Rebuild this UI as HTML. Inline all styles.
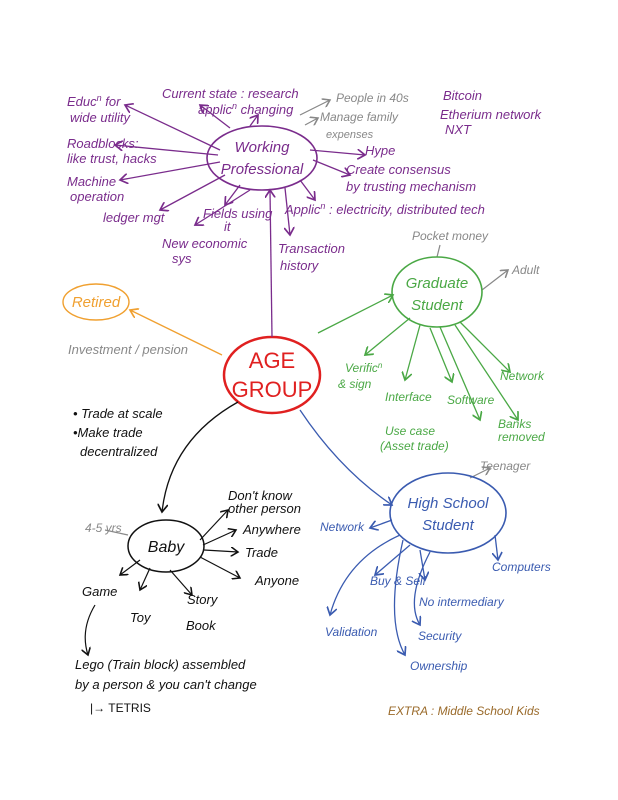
<!DOCTYPE html>
<html><head><meta charset="utf-8"><style>
html,body{margin:0;padding:0;background:#fff}
svg{display:block}
text{font-family:"Liberation Sans",sans-serif;font-style:italic}
.p{fill:#7a2c8c}.g{fill:#4aa845}.b{fill:#3a5bb0}.k{fill:#111}.gr{fill:#888}
</style></head><body>
<svg width="618" height="800" viewBox="0 0 618 800" xmlns="http://www.w3.org/2000/svg">
<defs>
<marker id="ap" markerWidth="8" markerHeight="8" refX="6" refY="4" orient="auto"><path d="M0,0 L6,4 L0,8" fill="none" stroke="#7a2c8c" stroke-width="1.3"/></marker>
<marker id="ag" markerWidth="8" markerHeight="8" refX="6" refY="4" orient="auto"><path d="M0,0 L6,4 L0,8" fill="none" stroke="#4aa845" stroke-width="1.3"/></marker>
<marker id="ab" markerWidth="8" markerHeight="8" refX="6" refY="4" orient="auto"><path d="M0,0 L6,4 L0,8" fill="none" stroke="#3a5bb0" stroke-width="1.3"/></marker>
<marker id="ak" markerWidth="8" markerHeight="8" refX="6" refY="4" orient="auto"><path d="M0,0 L6,4 L0,8" fill="none" stroke="#111" stroke-width="1.3"/></marker>
<marker id="ao" markerWidth="8" markerHeight="8" refX="6" refY="4" orient="auto"><path d="M0,0 L6,4 L0,8" fill="none" stroke="#f0a030" stroke-width="1.3"/></marker>
<marker id="agr" markerWidth="8" markerHeight="8" refX="6" refY="4" orient="auto"><path d="M0,0 L6,4 L0,8" fill="none" stroke="#888" stroke-width="1.3"/></marker>
</defs>

<!-- center -->
<ellipse cx="272" cy="375" rx="48" ry="38" fill="none" stroke="#e02020" stroke-width="2.5"/>
<text x="272" y="368" font-size="22" fill="#e02020" text-anchor="middle" style="font-style:normal">AGE</text>
<text x="272" y="397" font-size="22" fill="#e02020" text-anchor="middle" style="font-style:normal">GROUP</text>

<!-- working professional -->
<g stroke="#7a2c8c" stroke-width="1.3" fill="none" marker-end="url(#ap)">
<path d="M272 337 L270 190"/>
<path d="M220 150 L125 105"/>
<path d="M218 155 L115 145"/>
<path d="M220 162 L120 180"/>
<path d="M225 175 L160 210"/>
<path d="M240 185 L225 205"/>
<path d="M250 190 L195 225"/>
<path d="M285 188 L290 235"/>
<path d="M230 128 L200 105"/>
<path d="M250 126 L258 115"/>
<path d="M310 150 L365 155"/>
<path d="M313 160 L350 175"/>
<path d="M300 180 L315 200"/>
</g>
<g stroke="#888" stroke-width="1.2" fill="none" marker-end="url(#agr)">
<path d="M300 115 L330 100"/><path d="M305 125 L318 118"/>
</g>
<ellipse cx="262" cy="158" rx="55" ry="32" fill="none" stroke="#7a2c8c" stroke-width="1.6"/>
<text x="262" y="152" font-size="15" class="p" text-anchor="middle">Working</text>
<text x="262" y="174" font-size="15" class="p" text-anchor="middle">Professional</text>
<g font-size="13" class="p">
<text x="67" y="106">Educ<tspan font-size="9" dy="-5">n</tspan><tspan dy="5"> for</tspan></text>
<text x="70" y="122">wide utility</text>
<text x="162" y="98">Current state : research</text>
<text x="198" y="114">applic<tspan font-size="9" dy="-5">n</tspan><tspan dy="5"> changing</tspan></text>
<text x="67" y="148">Roadblocks:</text>
<text x="67" y="163">like trust, hacks</text>
<text x="67" y="186">Machine</text>
<text x="70" y="201">operation</text>
<text x="103" y="222">ledger mgt</text>
<text x="203" y="218">Fields using</text>
<text x="224" y="231">it</text>
<text x="162" y="248">New economic</text>
<text x="172" y="263">sys</text>
<text x="278" y="253">Transaction</text>
<text x="280" y="270">history</text>
<text x="365" y="155">Hype</text>
<text x="346" y="174">Create consensus</text>
<text x="346" y="191">by trusting mechanism</text>
<text x="285" y="214">Applic<tspan font-size="9" dy="-5">n</tspan><tspan dy="5"> : electricity, distributed tech</tspan></text>
<text x="443" y="100">Bitcoin</text>
<text x="440" y="119">Etherium network</text>
<text x="445" y="134">NXT</text>
</g>
<g font-size="12" class="gr">
<text x="336" y="102">People in 40s</text>
<text x="320" y="121">Manage family</text>
<text x="326" y="138" font-size="11">expenses</text>
</g>

<!-- retired -->
<path d="M222 355 L130 310" stroke="#f0a030" stroke-width="1.3" fill="none" marker-end="url(#ao)"/>
<ellipse cx="96" cy="302" rx="33" ry="18" fill="none" stroke="#f0a030" stroke-width="1.4"/>
<text x="96" y="307" font-size="15" fill="#f0a030" text-anchor="middle">Retired</text>
<text x="68" y="354" font-size="13" class="gr">Investment / pension</text>

<!-- graduate -->
<g stroke="#4aa845" stroke-width="1.3" fill="none" marker-end="url(#ag)">
<path d="M318 333 L393 295"/>
<path d="M410 318 L365 355"/>
<path d="M420 325 L405 380"/>
<path d="M430 328 L452 382"/>
<path d="M440 327 L480 420"/>
<path d="M460 322 L510 372"/>
<path d="M455 325 L518 420"/>
</g>
<path d="M482 290 L508 270" stroke="#888" stroke-width="1.2" fill="none" marker-end="url(#agr)"/>
<path d="M437 257 L440 245" stroke="#888" stroke-width="1.2" fill="none"/>
<ellipse cx="437" cy="292" rx="45" ry="35" fill="none" stroke="#4aa845" stroke-width="1.6"/>
<text x="437" y="288" font-size="15" class="g" text-anchor="middle">Graduate</text>
<text x="437" y="310" font-size="15" class="g" text-anchor="middle">Student</text>
<g font-size="12" class="g">
<text x="345" y="372">Verific<tspan font-size="8" dy="-4">n</tspan></text>
<text x="338" y="388">&amp; sign</text>
<text x="385" y="401">Interface</text>
<text x="447" y="404">Software</text>
<text x="500" y="380">Network</text>
<text x="385" y="435">Use case</text>
<text x="380" y="450">(Asset trade)</text>
<text x="498" y="428">Banks</text>
<text x="498" y="441">removed</text>
</g>
<text x="412" y="240" font-size="12" class="gr">Pocket money</text>
<text x="512" y="274" font-size="12" class="gr">Adult</text>

<!-- high school -->
<path d="M300 410 Q340 470 392 505" stroke="#3a5bb0" stroke-width="1.3" fill="none" marker-end="url(#ab)"/>
<g stroke="#3a5bb0" stroke-width="1.3" fill="none" marker-end="url(#ab)">
<path d="M392 520 L370 528"/>
<path d="M400 535 Q345 560 330 615"/>
<path d="M410 545 L375 575"/>
<path d="M420 550 L425 580"/>
<path d="M430 552 Q405 600 420 625"/>
<path d="M403 540 Q385 620 405 655"/>
<path d="M495 535 L498 560"/>
</g>
<path d="M470 478 L490 468" stroke="#888" stroke-width="1.2" fill="none" marker-end="url(#agr)"/>
<ellipse cx="448" cy="513" rx="58" ry="40" fill="none" stroke="#3a5bb0" stroke-width="1.6"/>
<text x="448" y="508" font-size="15" class="b" text-anchor="middle">High School</text>
<text x="448" y="530" font-size="15" class="b" text-anchor="middle">Student</text>
<g font-size="12" class="b">
<text x="320" y="531">Network</text>
<text x="370" y="585">Buy &amp; Sell</text>
<text x="419" y="606">No intermediary</text>
<text x="492" y="571">Computers</text>
<text x="325" y="636">Validation</text>
<text x="418" y="640">Security</text>
<text x="410" y="670">Ownership</text>
</g>
<text x="480" y="470" font-size="12" class="gr">Teenager</text>

<!-- baby -->
<path d="M238 402 Q170 440 162 512" stroke="#111" stroke-width="1.3" fill="none" marker-end="url(#ak)"/>
<g stroke="#111" stroke-width="1.2" fill="none" marker-end="url(#ak)">
<path d="M200 540 L228 510"/>
<path d="M203 545 L236 530"/>
<path d="M204 550 L238 552"/>
<path d="M200 557 L240 578"/>
<path d="M140 560 L120 575"/>
<path d="M150 568 L140 590"/>
<path d="M170 570 L192 595"/>
<path d="M95 605 Q80 630 88 655"/>
</g>
<path d="M128 535 L105 530" stroke="#888" stroke-width="1.2" fill="none"/>
<ellipse cx="166" cy="546" rx="38" ry="26" fill="none" stroke="#111" stroke-width="1.5"/>
<text x="166" y="552" font-size="16" class="k" text-anchor="middle">Baby</text>
<text x="85" y="532" font-size="12" class="gr">4-5 yrs</text>
<g font-size="13" class="k">
<text x="228" y="500">Don't know</text>
<text x="228" y="513">other person</text>
<text x="243" y="534">Anywhere</text>
<text x="245" y="557">Trade</text>
<text x="255" y="585">Anyone</text>
<text x="82" y="596">Game</text>
<text x="130" y="622">Toy</text>
<text x="187" y="604">Story</text>
<text x="186" y="630">Book</text>
<text x="75" y="669">Lego (Train block) assembled</text>
<text x="75" y="689">by a person &amp; you can't change</text>
<text x="90" y="712" style="font-style:normal" font-size="12">|→ TETRIS</text>
<text x="73" y="418">• Trade at scale</text>
<text x="73" y="437">•Make trade</text>
<text x="80" y="456">decentralized</text>
</g>
<text x="388" y="715" font-size="12" fill="#9a6a2a">EXTRA : Middle School Kids</text>
</svg>
</body></html>
